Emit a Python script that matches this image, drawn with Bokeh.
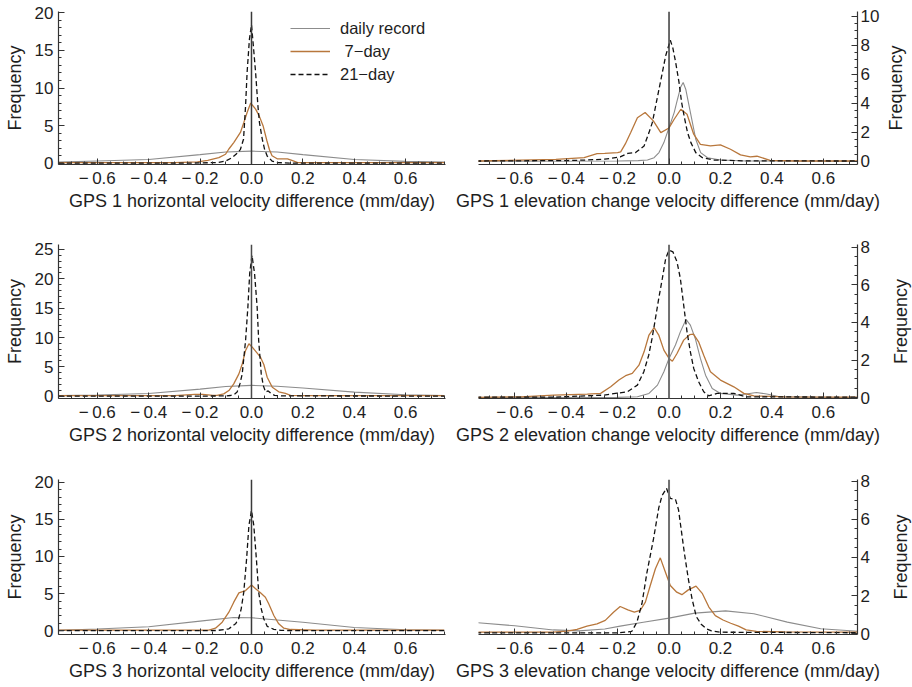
from bokeh.plotting import figure
from bokeh.models import FixedTicker, Span, Legend, LegendItem, Range1d
from bokeh.layouts import column, row
from bokeh.embed import file_html
from bokeh.resources import INLINE

# ---------------- data ----------------
X_TICKS = [-0.6, -0.4, -0.2, 0.0, 0.2, 0.4, 0.6]
X_TICK_LABELS = ["\u2212\u20090.6", "\u2212\u20090.4", "\u2212\u20090.2", "0.0", "0.2", "0.4", "0.6"]
X_MINOR = [round(-0.75 + 0.05 * i, 2) for i in range(31)]
ZERO_LINE_X = 0.0

LEGEND_LABELS = ["daily record", "\u00a07\u2212day", "21\u2212day"]
X_LABELS = [
    "GPS 1 horizontal velocity difference (mm/day)",
    "GPS 1 elevation change velocity difference (mm/day)",
    "GPS 2 horizontal velocity difference (mm/day)",
    "GPS 2 elevation change velocity difference (mm/day)",
    "GPS 3 horizontal velocity difference (mm/day)",
    "GPS 3 elevation change velocity difference (mm/day)",
]
Y_LABEL = "Frequency"

# GPS 1 horizontal
G1H_DAILY_X = [-0.75, -0.6, -0.4, -0.2, -0.1, 0.0, 0.1, 0.2, 0.4, 0.6, 0.75]
G1H_DAILY_Y = [0.15, 0.3, 0.5, 1.15, 1.5, 1.62, 1.5, 1.15, 0.5, 0.25, 0.15]
G1H_7D_X = [-0.75, -0.3, -0.21, -0.17, -0.127, -0.101, -0.088, -0.069, -0.043, -0.030, -0.017, -0.003,
            0.016, 0.03, 0.045, 0.06, 0.07, 0.08, 0.10, 0.12, 0.14, 0.16, 0.18, 0.3, 0.75]
G1H_7D_Y = [0.1, 0.1, 0.2, 0.4, 0.75, 1.2, 1.9, 2.75, 4.1, 5.4, 6.75, 8.0,
            7.2, 6.3, 5.0, 3.0, 1.8, 1.0, 0.6, 0.6, 0.6, 0.35, 0.1, 0.1, 0.1]
G1H_21D_X = [-0.75, -0.25, -0.13, -0.101, -0.075, -0.053, -0.043, -0.031, -0.027, -0.023, -0.017, -0.008,
             0.0, 0.005, 0.016, 0.025, 0.031, 0.042, 0.051, 0.061, 0.080, 0.10, 0.15, 0.75]
G1H_21D_Y = [0.02, 0.02, 0.1, 0.3, 0.75, 1.42, 1.86, 3.2, 5.4, 7.64, 12.1, 16.5,
             18.4, 16.5, 12.1, 7.64, 5.41, 3.2, 1.86, 0.97, 0.3, 0.1, 0.03, 0.02]

# GPS 1 elevation change
G1E_DAILY_X = [-0.75, -0.2, -0.12, -0.084, -0.058, -0.039, -0.02, 0.0, 0.02, 0.033, 0.045, 0.055,
               0.065, 0.078, 0.091, 0.104, 0.123, 0.15, 0.2, 0.3, 0.75]
G1E_DAILY_Y = [0.0, 0.02, 0.05, 0.09, 0.25, 0.6, 1.29, 2.32, 3.36, 4.28, 5.1, 5.43,
               4.97, 3.82, 2.67, 1.52, 0.6, 0.25, 0.09, 0.02, 0.0]
G1E_7D_X = [-0.75, -0.44, -0.33, -0.28, -0.25, -0.2, -0.188, -0.17, -0.149, -0.123, -0.093, -0.061,
            -0.032, 0.0, 0.02, 0.046, 0.07, 0.096, 0.122, 0.161, 0.2, 0.239, 0.278, 0.316, 0.342,
            0.393, 0.5, 0.75]
G1E_7D_Y = [0.02, 0.14, 0.25, 0.53, 0.55, 0.6, 0.65, 1.2, 1.98, 3.0, 3.36, 2.79,
            1.98, 2.3, 2.9, 3.59, 3.25, 1.87, 1.17, 1.06, 1.13, 0.83, 0.44, 0.3, 0.35,
            0.07, 0.02, 0.02]
G1E_21D_X = [-0.75, -0.4, -0.318, -0.25, -0.19, -0.16, -0.13, -0.097, -0.078, -0.065, -0.052, -0.039,
             -0.026, -0.013, 0.005, 0.015, 0.026, 0.039, 0.049, 0.06, 0.072, 0.085, 0.104, 0.13,
             0.175, 0.3, 0.75]
G1E_21D_Y = [0.02, 0.05, 0.09, 0.15, 0.3, 0.55, 0.6, 1.06, 1.98, 2.67, 3.82, 4.97,
             6.12, 7.28, 8.35, 7.8, 6.8, 5.43, 4.05, 3.0, 1.98, 1.29, 0.6, 0.25,
             0.09, 0.03, 0.02]

# GPS 2 horizontal
G2H_DAILY_X = [-0.75, -0.6, -0.4, -0.2, -0.1, 0.0, 0.1, 0.2, 0.4, 0.6, 0.75]
G2H_DAILY_Y = [0.1, 0.2, 0.45, 1.2, 1.65, 1.85, 1.7, 1.4, 0.7, 0.25, 0.1]
G2H_7D_X = [-0.75, -0.3, -0.22, -0.19, -0.15, -0.134, -0.108, -0.088, -0.069, -0.049, -0.036, -0.023,
            -0.01, 0.003, 0.019, 0.035, 0.048, 0.061, 0.081, 0.106, 0.132, 0.152, 0.2, 0.75]
G2H_7D_Y = [0.1, 0.1, 0.3, 0.3, 0.15, 0.15, 0.4, 0.97, 2.1, 3.8, 5.5, 7.8,
            8.93, 8.35, 7.5, 6.65, 5.4, 3.24, 1.53, 0.75, 0.5, 0.15, 0.1, 0.1]
G2H_21D_X = [-0.75, -0.2, -0.1, -0.082, -0.066, -0.056, -0.045, -0.036, -0.023, -0.014, -0.007, 0.002,
             0.012, 0.022, 0.028, 0.038, 0.046, 0.055, 0.065, 0.075, 0.09, 0.12, 0.75]
G2H_21D_Y = [0.02, 0.02, 0.05, 0.12, 0.35, 0.7, 2.1, 3.8, 9.5, 15.2, 20.9, 24.0,
             20.9, 15.2, 9.5, 3.8, 1.8, 0.7, 0.9, 0.5, 0.15, 0.05, 0.02]

# GPS 2 elevation change
G2E_DAILY_X = [-0.75, -0.2, -0.123, -0.078, -0.045, -0.02, 0.0, 0.025, 0.044, 0.066, 0.083, 0.102,
               0.122, 0.142, 0.168, 0.2, 0.265, 0.3, 0.34, 0.38, 0.43, 0.75]
G2E_DAILY_Y = [0.0, 0.02, 0.05, 0.23, 0.67, 1.38, 2.09, 2.8, 3.5, 4.16, 3.86, 3.15,
               2.09, 1.2, 0.49, 0.23, 0.14, 0.2, 0.28, 0.2, 0.05, 0.0]
G2E_7D_X = [-0.75, -0.578, -0.448, -0.318, -0.266, -0.227, -0.195, -0.169, -0.143, -0.117, -0.097,
            -0.078, -0.058, -0.04, -0.02, 0.0, 0.013, 0.031, 0.057, 0.08, 0.095, 0.115, 0.135, 0.161,
            0.2, 0.252, 0.291, 0.33, 0.45, 0.75]
G2E_7D_Y = [0.02, 0.05, 0.14, 0.19, 0.23, 0.58, 0.94, 1.17, 1.29, 1.73, 2.44,
            3.33, 3.72, 3.33, 2.53, 2.09, 1.94, 2.35, 3.06, 3.35, 3.38, 2.97, 2.26, 1.38,
            0.94, 0.58, 0.23, 0.1, 0.05, 0.03]
G2E_21D_X = [-0.75, -0.45, -0.253, -0.162, -0.123, -0.098, -0.079, -0.066, -0.053, -0.04, -0.026,
             -0.013, 0.0, 0.015, 0.031, 0.044, 0.057, 0.07, 0.083, 0.096, 0.115, 0.135, 0.154,
             0.187, 0.252, 0.3, 0.75]
G2E_21D_Y = [0.03, 0.03, 0.14, 0.32, 0.67, 1.38, 2.26, 3.15, 4.2, 5.27, 6.34,
             7.4, 7.84, 7.75, 7.22, 6.34, 4.92, 3.5, 2.44, 1.56, 0.85, 0.32, 0.1,
             0.23, 0.23, 0.05, 0.03]

# GPS 3 horizontal
G3H_DAILY_X = [-0.75, -0.6, -0.4, -0.2, -0.07, 0.0, 0.1, 0.2, 0.4, 0.6, 0.75]
G3H_DAILY_Y = [0.05, 0.25, 0.55, 1.3, 1.78, 1.75, 1.45, 1.15, 0.45, 0.13, 0.05]
G3H_7D_X = [-0.75, -0.25, -0.166, -0.14, -0.114, -0.088, -0.069, -0.049, -0.023, 0.0, 0.016, 0.035,
            0.054, 0.067, 0.087, 0.106, 0.126, 0.152, 0.25, 0.75]
G3H_7D_Y = [0.08, 0.08, 0.1, 0.35, 1.16, 2.5, 3.85, 5.11, 5.42, 6.15, 5.65, 5.11,
            4.52, 3.63, 2.06, 0.94, 0.35, 0.17, 0.08, 0.08]
G3H_21D_X = [-0.75, -0.2, -0.134, -0.088, -0.062, -0.05, -0.04, -0.03, -0.019, -0.01, 0.0, 0.009,
             0.019, 0.028, 0.038, 0.048, 0.061, 0.087, 0.115, 0.2, 0.75]
G3H_21D_Y = [0.02, 0.02, 0.04, 0.27, 0.94, 1.62, 2.96, 5.2, 9.69, 14.17, 16.2, 14.17,
             9.69, 5.2, 2.96, 1.6, 0.6, 0.2, 0.05, 0.02, 0.02]

# GPS 3 elevation change
G3E_DAILY_X = [-0.75, -0.6, -0.45, -0.35, -0.25, -0.19, -0.1, 0.0, 0.1, 0.22, 0.33, 0.46, 0.59, 0.75]
G3E_DAILY_Y = [0.58, 0.42, 0.2, 0.15, 0.25, 0.4, 0.6, 0.82, 1.08, 1.2, 1.05, 0.61, 0.26, 0.12]
G3E_7D_X = [-0.75, -0.45, -0.397, -0.358, -0.319, -0.28, -0.248, -0.216, -0.19, -0.16, -0.135, -0.112,
            -0.092, -0.073, -0.053, -0.034, -0.014, 0.005, 0.03, 0.05, 0.075, 0.105, 0.13, 0.155,
            0.18, 0.21, 0.24, 0.27, 0.3, 0.34, 0.45, 0.75]
G3E_7D_Y = [0.08, 0.08, 0.14, 0.23, 0.4, 0.52, 0.7, 1.13, 1.43, 1.25, 1.13, 1.22,
            1.66, 2.53, 3.41, 3.98, 3.23, 2.53, 2.18, 2.05, 2.3, 2.5, 2.1, 1.4,
            0.95, 0.72, 0.55, 0.4, 0.2, 0.12, 0.1, 0.08]
G3E_21D_X = [-0.75, -0.2, -0.145, -0.125, -0.105, -0.086, -0.06, -0.04, -0.027, -0.01, 0.005, 0.025,
             0.037, 0.05, 0.06, 0.076, 0.09, 0.106, 0.125, 0.145, 0.165, 0.2, 0.75]
G3E_21D_Y = [0.05, 0.05, 0.12, 0.6, 1.6, 3.2, 5.0, 6.6, 7.25, 7.63, 7.1, 7.05,
             6.5, 5.2, 4.2, 2.8, 1.8, 0.9, 0.5, 0.26, 0.15, 0.08, 0.05]

# y ticks per panel
Y_TICKS_20 = [0, 5, 10, 15, 20]
Y_TICKS_25 = [0, 5, 10, 15, 20, 25]
Y_TICKS_10 = [0, 2, 4, 6, 8, 10]
Y_TICKS_8 = [0, 2, 4, 6, 8]

# ---------------- styling ----------------
FONT = "Liberation Sans"
TEXT_COLOR = "#1e1e1e"
AXIS_COLOR = "#333333"
DAILY_COLOR = "#8c8c8c"
WEEK_COLOR = "#b8773c"
TRI_COLOR = "#111111"
LAB_W = 30


def label_strip(height, border_left, btop, bbot):
    """Narrow strip whose (tick-less) left axis carries the 'Frequency' title, reading bottom-to-top."""
    s = figure(width=LAB_W, height=height, output_backend="svg", toolbar_location=None,
               x_axis_type=None, y_axis_location="left",
               min_border_left=border_left, min_border_right=0,
               min_border_top=btop, min_border_bottom=bbot,
               x_range=Range1d(0, 1), y_range=Range1d(0, 1))
    s.grid.visible = False
    s.outline_line_color = None
    s.background_fill_color = "white"
    s.border_fill_color = "white"
    ax = s.yaxis[0]
    ax.ticker = FixedTicker(ticks=[])
    ax.axis_line_color = None
    ax.major_tick_line_color = None
    ax.minor_tick_line_color = None
    ax.major_label_standoff = 0
    ax.major_tick_in = 0
    ax.major_tick_out = 0
    ax.axis_label = Y_LABEL
    ax.axis_label_standoff = 0
    ax.axis_label_text_font = FONT
    ax.axis_label_text_font_size = "18px"
    ax.axis_label_text_font_style = "normal"
    ax.axis_label_text_color = TEXT_COLOR
    return s


def make_panel(idx, daily, week, tri, xr, yr, yticks, yminor, right, height, btop, bbot, zero_color,
               zero_width, legend=False):
    p = figure(width=456 - LAB_W, height=height, x_range=Range1d(*xr), y_range=Range1d(*yr),
               output_backend="svg", toolbar_location=None,
               y_axis_location="right" if right else "left",
               min_border_left=22 if right else 58 - LAB_W,
               min_border_right=55 - LAB_W if right else 11,
               min_border_top=btop, min_border_bottom=bbot)
    p.grid.visible = False
    p.outline_line_color = None
    p.background_fill_color = "white"
    p.border_fill_color = "white"

    xa = p.xaxis[0]
    xa.ticker = FixedTicker(ticks=X_TICKS, minor_ticks=X_MINOR)
    xa.major_label_overrides = dict(zip(X_TICKS, X_TICK_LABELS))
    xa.axis_label = X_LABELS[idx]
    ya = p.yaxis[0]
    ya.ticker = FixedTicker(ticks=yticks, minor_ticks=yminor)
    for ax in (xa, ya):
        ax.axis_line_color = AXIS_COLOR
        ax.axis_line_width = 1.2
        ax.major_tick_line_color = AXIS_COLOR
        ax.minor_tick_line_color = AXIS_COLOR
        ax.major_tick_in = 6
        ax.major_tick_out = 0
        ax.minor_tick_in = 3
        ax.minor_tick_out = 0
        ax.major_label_text_font = FONT
        ax.major_label_text_font_size = "17px"
        ax.major_label_text_color = TEXT_COLOR
        ax.axis_label_text_font = FONT
        ax.axis_label_text_font_size = "18px"
        ax.axis_label_text_font_style = "normal"
        ax.axis_label_text_color = TEXT_COLOR
    xa.major_label_standoff = 4
    xa.axis_label_standoff = 0
    ya.major_label_standoff = 3 if right else 5

    r1 = p.line(daily[0], daily[1], line_color=DAILY_COLOR, line_width=1.1)
    r2 = p.line(week[0], week[1], line_color=WEEK_COLOR, line_width=1.3)
    r3 = p.line(tri[0], tri[1], line_color=TRI_COLOR, line_width=1.3, line_dash="5 3")
    p.add_layout(Span(location=ZERO_LINE_X, dimension="height", line_color=zero_color,
                      line_width=zero_width))

    if legend:
        lg = Legend(items=[LegendItem(label=LEGEND_LABELS[0], renderers=[r1]),
                           LegendItem(label=LEGEND_LABELS[1], renderers=[r2]),
                           LegendItem(label=LEGEND_LABELS[2], renderers=[r3])],
                    location=(232, 80), border_line_color=None, background_fill_alpha=0,
                    label_text_font=FONT, label_text_font_size="16.5px",
                    label_text_color=TEXT_COLOR, glyph_width=40, glyph_height=20,
                    label_height=20, spacing=3, padding=0, margin=0, label_standoff=10)
        p.add_layout(lg)
    return p


minor5_20 = [v for v in range(0, 21) if v % 5]
minor5_25 = [v for v in range(0, 26) if v % 5]
minor_h10 = [v * 0.5 for v in range(0, 21) if v % 4]
minor_h8 = [v * 0.5 for v in range(0, 17) if v % 4]

XR_L = (-0.751, 0.755)
XR_R = (-0.741, 0.733)

# per-row heights and frame borders (top, bottom)
ROWS = [(230, 11, 66), (230, 14, 62), (227, 19, 53)]

p1 = make_panel(0, (G1H_DAILY_X, G1H_DAILY_Y), (G1H_7D_X, G1H_7D_Y), (G1H_21D_X, G1H_21D_Y),
                XR_L, (-0.16, 20.17), Y_TICKS_20, minor5_20, False, *ROWS[0], "#3a3a3a", 1.5,
                legend=True)
p2 = make_panel(1, (G1E_DAILY_X, G1E_DAILY_Y), (G1E_7D_X, G1E_7D_Y), (G1E_21D_X, G1E_21D_Y),
                XR_R, (-0.22, 10.33), Y_TICKS_10, minor_h10, True, *ROWS[0], "#3a3a3a", 1.5)
p3 = make_panel(2, (G2H_DAILY_X, G2H_DAILY_Y), (G2H_7D_X, G2H_7D_Y), (G2H_21D_X, G2H_21D_Y),
                XR_L, (-0.39, 25.85), Y_TICKS_25, minor5_25, False, *ROWS[1], "#4a4a4a", 1.5)
p4 = make_panel(3, (G2E_DAILY_X, G2E_DAILY_Y), (G2E_7D_X, G2E_7D_Y), (G2E_21D_X, G2E_21D_Y),
                XR_R, (-0.04, 8.14), Y_TICKS_8, minor_h8, True, *ROWS[1], "#707070", 2)
p5 = make_panel(4, (G3H_DAILY_X, G3H_DAILY_Y), (G3H_7D_X, G3H_7D_Y), (G3H_21D_X, G3H_21D_Y),
                XR_L, (-0.5, 20.36), Y_TICKS_20, minor5_20, False, *ROWS[2], "#3a3a3a", 1.5)
p6 = make_panel(5, (G3E_DAILY_X, G3E_DAILY_Y), (G3E_7D_X, G3E_7D_Y), (G3E_21D_X, G3E_21D_Y),
                XR_R, (-0.04, 8.09), Y_TICKS_8, minor_h8, True, *ROWS[2], "#707070", 2)

layout = column(
    row(label_strip(ROWS[0][0], 24, ROWS[0][1], ROWS[0][2]), p1, p2,
        label_strip(ROWS[0][0], 22, ROWS[0][1], ROWS[0][2]), spacing=0),
    row(label_strip(ROWS[1][0], 24, ROWS[1][1], ROWS[1][2]), p3, p4,
        label_strip(ROWS[1][0], 28, ROWS[1][1], ROWS[1][2]), spacing=0),
    row(label_strip(ROWS[2][0], 24, ROWS[2][1], ROWS[2][2]), p5, p6,
        label_strip(ROWS[2][0], 28, ROWS[2][1], ROWS[2][2]), spacing=0),
    spacing=0)

with open("out.html", "w") as f:
    f.write(file_html(layout, INLINE))
